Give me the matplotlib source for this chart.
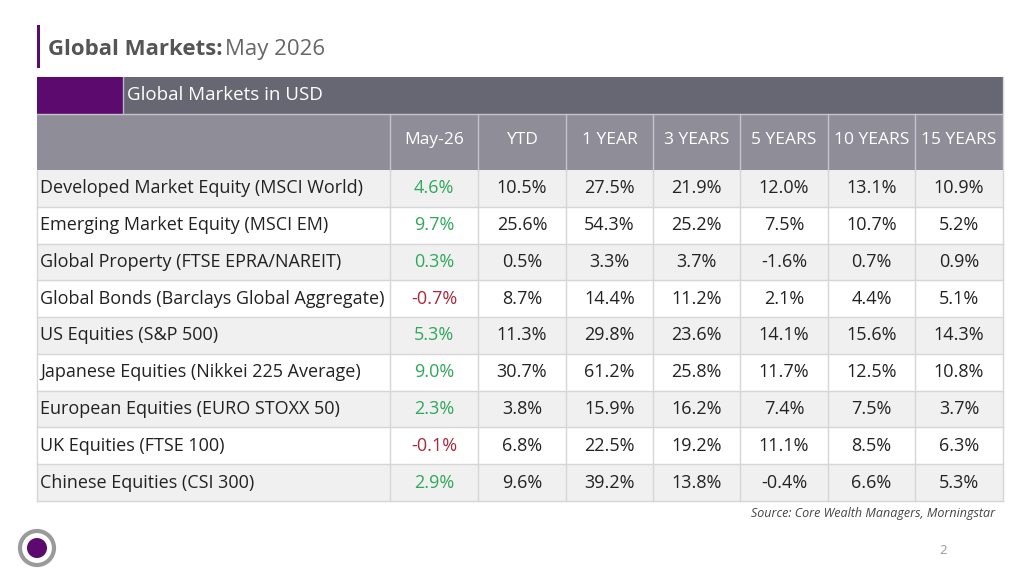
import matplotlib.pyplot as plt
from matplotlib.patches import Rectangle, Circle

plt.rcParams['font.family'] = ['Open Sans', 'DejaVu Sans']

# table data
columns = ['May-26', 'YTD', '1 YEAR', '3 YEARS', '5 YEARS', '10 YEARS', '15 YEARS']
markets = [
    'Developed Market Equity (MSCI World)',
    'Emerging Market Equity (MSCI EM)',
    'Global Property (FTSE EPRA/NAREIT)',
    'Global Bonds (Barclays Global Aggregate)',
    'US Equities (S&P 500)',
    'Japanese Equities (Nikkei 225 Average)',
    'European Equities (EURO STOXX 50)',
    'UK Equities (FTSE 100)',
    'Chinese Equities (CSI 300)',
]
may26 = [4.6, 9.7, 0.3, -0.7, 5.3, 9.0, 2.3, -0.1, 2.9]
ytd = [10.5, 25.6, 0.5, 8.7, 11.3, 30.7, 3.8, 6.8, 9.6]
one_year = [27.5, 54.3, 3.3, 14.4, 29.8, 61.2, 15.9, 22.5, 39.2]
three_years = [21.9, 25.2, 3.7, 11.2, 23.6, 25.8, 16.2, 19.2, 13.8]
five_years = [12.0, 7.5, -1.6, 2.1, 14.1, 11.7, 7.4, 11.1, -0.4]
ten_years = [13.1, 10.7, 0.7, 4.4, 15.6, 12.5, 7.5, 8.5, 6.6]
fifteen_years = [10.9, 5.2, 0.9, 5.1, 14.3, 10.8, 3.7, 6.3, 5.3]

series = [may26, ytd, one_year, three_years, five_years, ten_years, fifteen_years]

PURPLE = '#5c0a6e'
DARK = '#676773'
MID = '#8e8d98'
GRID = '#d6d6d6'
GREEN = '#2fa85a'
RED = '#a8283c'
TXT = '#222222'

fig = plt.figure(figsize=(10.24, 5.76), dpi=100)
ax = fig.add_axes([0, 0, 1, 1])
ax.set_xlim(0, 1024)
ax.set_ylim(576, 0)
ax.axis('off')

# title
ax.add_patch(Rectangle((37, 25), 3, 43, color=PURPLE, lw=0))
t1 = ax.text(48, 60, 'Global Markets:', fontsize=16, fontweight='bold',
             color='#555555', va='bottom')
ax.annotate('May 2026', xy=(1, 0), xycoords=t1, xytext=(2, 0),
            textcoords='offset points', fontsize=16, color='#666666',
            va='bottom', ha='left')

col_edges = [37, 390, 478, 566, 653, 740, 828, 915, 1003]
left, right = col_edges[0], col_edges[-1]
band1 = (77, 114)
band2 = (114, 170)
row_top = 170
row_h = (501 - 170) / len(markets)

# header band 1
ax.add_patch(Rectangle((left, band1[0]), right - left, band1[1] - band1[0],
                       color=DARK, lw=0))
ax.add_patch(Rectangle((left, band1[0]), 123 - left, band1[1] - band1[0],
                       color=PURPLE, lw=0))
ax.plot([123, 123], band1, color='#b9b3c4', lw=1)
ax.text(127, (band1[0] + band1[1]) / 2, 'Global Markets in USD', fontsize=13.5,
        color='white', va='center', ha='left')

# header band 2
ax.add_patch(Rectangle((left, band2[0]), right - left, band2[1] - band2[0],
                       color=MID, lw=0))
ax.plot([left, right], [band2[0], band2[0]], color='#c4c4cc', lw=1)
for i, name in enumerate(columns):
    x0, x1 = col_edges[i + 1], col_edges[i + 2]
    ax.plot([x0, x0], band2, color='#c4c4cc', lw=1)
    ax.text((x0 + x1) / 2, (band2[0] + band2[1]) / 2 - 2, name, fontsize=12.5,
            color='white', va='center', ha='center')

# body rows
for r, name in enumerate(markets):
    y0 = row_top + r * row_h
    bg = '#f0f0f0' if r % 2 == 0 else 'white'
    ax.add_patch(Rectangle((left, y0), right - left, row_h, color=bg, lw=0))
    ax.plot([left, right], [y0 + row_h, y0 + row_h], color=GRID, lw=1)
    yc = y0 + row_h / 2
    ax.text(left + 3, yc, name, fontsize=13, color=TXT, va='center', ha='left')
    for c, vals in enumerate(series):
        v = vals[r]
        x0, x1 = col_edges[c + 1], col_edges[c + 2]
        color = TXT
        if c == 0:
            color = GREEN if v >= 0 else RED
        ax.text((x0 + x1) / 2, yc, f'{v:.1f}%', fontsize=13, color=color,
                va='center', ha='center')

for x in col_edges[1:-1]:
    ax.plot([x, x], [row_top, row_top + row_h * len(markets)], color=GRID, lw=1)
ax.plot([left, left], [row_top, 501], color=GRID, lw=1)
ax.plot([right, right], [band1[0], 501], color=GRID, lw=1)

# footer
ax.text(995, 514, 'Source: Core Wealth Managers, Morningstar', fontsize=9,
        style='italic', color='#444444', ha='right', va='center')
ax.add_patch(Circle((37, 548), 17, facecolor='white', edgecolor='#9a9a9a', lw=3))
ax.add_patch(Circle((37, 548), 10, color=PURPLE, lw=0))
ax.text(943, 550, '2', fontsize=9.5, color='#999999', ha='center', va='center')

fig.savefig('out.png', dpi=100)
